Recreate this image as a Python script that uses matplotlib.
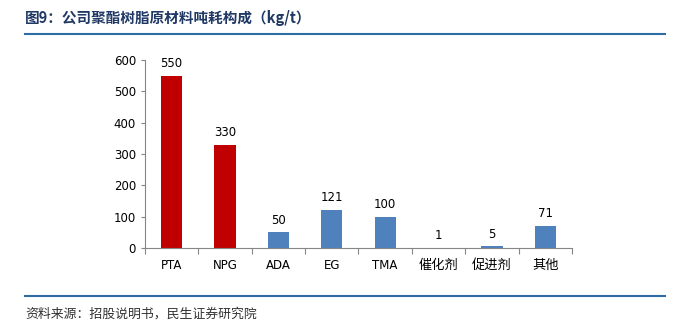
import matplotlib

matplotlib.use("Agg")
import matplotlib.pyplot as plt
from matplotlib.lines import Line2D

plt.rcParams["font.family"] = ["DejaVu Sans", "Noto Sans CJK SC"]

categories = ["PTA", "NPG", "ADA", "EG", "TMA", "催化剂", "促进剂", "其他"]
values = [550, 330, 50, 121, 100, 1, 5, 71]
highlight = [True, True, False, False, False, False, False, False]
y_ticks = [0, 100, 200, 300, 400, 500, 600]

title = "图9：公司聚酯树脂原材料吨耗构成（kg/t）"
source = "资料来源：招股说明书，民生证券研究院"

RED = "#C00000"
BLUE = "#4F81BD"
NAVY = "#1F3864"
RULE = "#2E6DA4"
AXIS = "#868686"

fig = plt.figure(figsize=(6.75, 3.24), dpi=100)
ax = fig.add_axes([0.2148, 0.2346, 0.6326, 0.5802])

x = range(len(categories))
colors = [RED if h else BLUE for h in highlight]
ax.bar(x, values, width=0.4, color=colors)
for xi, v in zip(x, values):
    ax.text(xi, v + 18, str(v), ha="center", va="bottom", fontsize=8.5, color="#000000")

ax.set_xlim(-0.5, len(categories) - 0.5)
ax.set_ylim(0, 600)
ax.set_yticks(y_ticks)
ax.tick_params(axis="y", labelsize=8.5, length=3, color=AXIS, direction="out")
ax.set_xticks([i - 0.5 for i in range(len(categories) + 1)], minor=False)
ax.set_xticklabels([])
ax.set_xticks(list(x), minor=True)
ax.set_xticklabels(categories, minor=True, fontsize=8.5)
for label in ax.get_xticklabels(minor=True):
    if not label.get_text().isascii():
        label.set_fontsize(9.5)
ax.tick_params(axis="x", which="major", length=4, color=AXIS, direction="out")
ax.tick_params(axis="x", which="minor", length=0, pad=8)
for side in ("top", "right"):
    ax.spines[side].set_visible(False)
for side in ("left", "bottom"):
    ax.spines[side].set_color(AXIS)
    ax.spines[side].set_linewidth(0.8)

fig.text(25 / 675, 1 - 18 / 324, title, fontsize=10.5, fontweight="bold", color=NAVY,
         va="center", ha="left", family=["Noto Sans CJK SC", "DejaVu Sans"])
fig.add_artist(Line2D([25 / 675, 665 / 675], [1 - 34 / 324] * 2, color=RULE, linewidth=1.5))
fig.add_artist(Line2D([25 / 675, 665 / 675], [1 - 296 / 324] * 2, color=RULE, linewidth=1.5))
fig.text(25 / 675, 1 - 314 / 324, source, fontsize=9.3, color="#333333",
         va="center", ha="left", family=["Noto Sans CJK SC", "DejaVu Sans"])

fig.savefig("out.png", dpi=100)
